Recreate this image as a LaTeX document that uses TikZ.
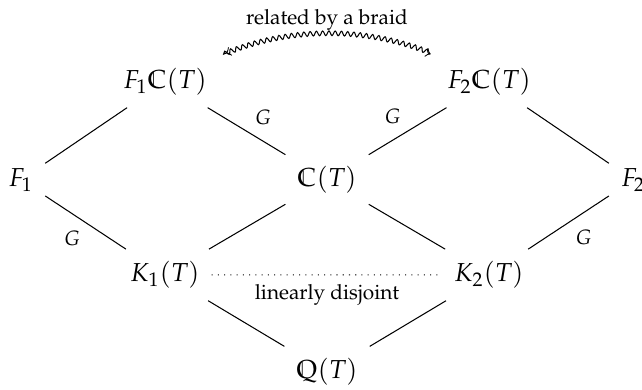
\documentclass[tikz,border=0pt]{standalone}
\usepackage[T1]{fontenc}
\usepackage{mathpazo}
\usetikzlibrary{decorations.pathmorphing}
\tikzset{
  field/.style={inner sep=4.5pt},
  lbl/.style={font=\footnotesize},
  grp/.style={font=\footnotesize,inner sep=2.5pt},
  wavy/.style={decorate,decoration={snake,amplitude=.9pt,segment length=2.4pt,pre length=2pt,post length=2pt}},
}
\begin{document}
\begin{tikzpicture}[xscale=2.19,yscale=1.311,>=to]
 \useasboundingbox (-2.019,-0.186) rectangle (1.944,3.835);
 % the lattice of fields
 \node[field] (qt) at (0,0) {$\mathbb{Q}(T)$};
 \node[field] (k1) at (-1,1) {$K_1(T)$};
 \node[field] (k2) at (1,1) {$K_2(T)$};
 \node[field] (f1) at (-1.89,1.98) {$F_1$};
 \node[field] (ct) at (0,1.98) {$\mathbb{C}(T)$};
 \node[field] (f2) at (1.89,1.98) {$F_2$};
 \node[field] (f1c) at (-1,2.99) {$F_1\mathbb{C}(T)$};
 \node[field] (f2c) at (1,2.99) {$F_2\mathbb{C}(T)$};
 \draw (f1)--(f1c);
 \draw (f1c)--(ct) node[grp,pos=.52,above right] {$G$};
 \draw (f2c)--(ct) node[grp,midway,above left] {$G$};
 \draw (f2c)--(f2);
 \draw (f1)--(k1) node[grp,pos=.52,below left] {$G$};
 \draw (ct)--(k1);
 \draw (ct)--(k2);
 \draw (f2)--(k2) node[grp,midway,below right] {$G$};
 \draw (k1)--(qt);
 \draw (k2)--(qt);
 \draw[dotted] (k1)--(k2) node[lbl,midway,below] {linearly disjoint};
 \draw[<->,wavy,shorten <=3pt,shorten >=2pt] (f1c.north east) to[bend left=36]
    node[lbl,midway,above,yshift=-2.3pt] {related by a braid} (f2c.north west);
\end{tikzpicture}
\end{document}
